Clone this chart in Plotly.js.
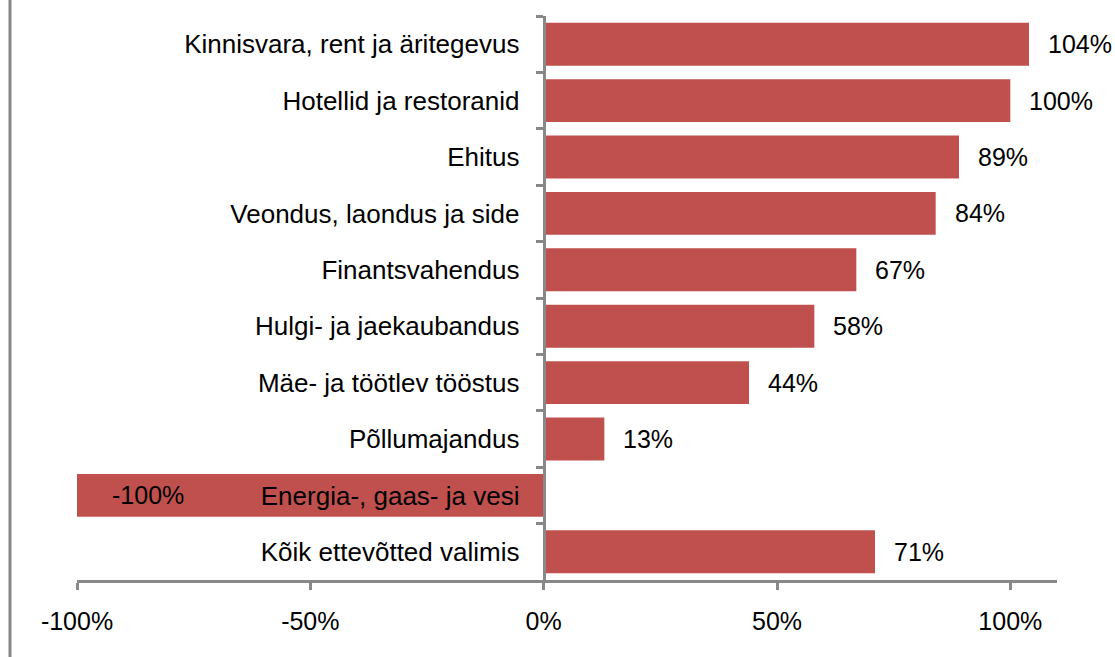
<!DOCTYPE html>
<html>
<head>
<meta charset="utf-8">
<script src="https://cdn.plot.ly/plotly-3.0.1.min.js"></script>
<style>
  html, body { margin: 0; padding: 0; background: #fff; }
  #chart { width: 1115px; height: 657px; }
</style>
</head>
<body>
<div id="chart"></div>
<script>
// Data (top to bottom as shown)
const categories = [
  "Kinnisvara, rent ja äritegevus",
  "Hotellid ja restoranid",
  "Ehitus",
  "Veondus, laondus ja side",
  "Finantsvahendus",
  "Hulgi- ja jaekaubandus",
  "Mäe- ja töötlev tööstus",
  "Põllumajandus",
  "Energia-, gaas- ja vesi",
  "Kõik ettevõtted valimis"
];
const values = [1.04, 1.00, 0.89, 0.84, 0.67, 0.58, 0.44, 0.13, -1.00, 0.71];
const valueLabels = ["104%", "100%", "89%", "84%", "67%", "58%", "44%", "13%", "-100%", "71%"];
const xTickVals = [-1, -0.5, 0, 0.5, 1];
const xTickText = ["-100%", "-50%", "0%", "50%", "100%"];

const FONT = "Liberation Sans, Arial, sans-serif";
const AXIS = "#888888";
const BAR = "#C0504D";

const xRange = [-1, 1.1];
const zeroPos = (0 - xRange[0]) / (xRange[1] - xRange[0]);

const trace = {
  type: "bar",
  orientation: "h",
  y: categories,
  x: values,
  marker: { color: BAR, line: { width: 0 } },
  hoverinfo: "skip",
  showlegend: false
};

const annotations = values.map((v, i) => ({
  x: v < 0 ? xRange[0] : v,
  y: categories[i],
  xref: "x",
  yref: "y",
  text: valueLabels[i],
  showarrow: false,
  xanchor: "left",
  yanchor: "middle",
  xshift: v < 0 ? 33 : 17,
  font: { family: FONT, size: 25, color: "#000" }
}));

const layout = {
  width: 1115,
  height: 657,
  margin: { l: 77, r: 58, t: 16, b: 77, pad: 0 },
  paper_bgcolor: "#ffffff",
  plot_bgcolor: "#ffffff",
  bargap: 0.24,
  font: { family: FONT, size: 25, color: "#000" },
  xaxis: {
    range: xRange,
    tickvals: xTickVals,
    ticktext: xTickText,
    showgrid: false,
    zeroline: false,
    showline: true,
    linecolor: AXIS,
    linewidth: 3,
    ticks: "outside",
    ticklen: 7,
    tickwidth: 3,
    tickcolor: AXIS,
    tickfont: { family: FONT, size: 25, color: "#000" },
    ticklabelstandoff: 10
  },
  yaxis: {
    type: "category",
    autorange: "reversed",
    anchor: "free",
    position: zeroPos,
    showgrid: false,
    zeroline: false,
    showline: true,
    linecolor: AXIS,
    linewidth: 3,
    ticks: "outside",
    tickson: "boundaries",
    ticklen: 7,
    tickwidth: 3,
    tickcolor: AXIS,
    tickfont: { family: FONT, size: 26, color: "#000" },
    ticklabelstandoff: 18
  },
  annotations: annotations,
  shapes: [{
    type: "line",
    xref: "paper", yref: "paper",
    x0: (10 - 77) / 980, x1: (10 - 77) / 980,
    y0: -0.3, y1: 1.2,
    line: { color: AXIS, width: 3 }
  }]
};

Plotly.newPlot("chart", [trace], layout, { displayModeBar: false, staticPlot: true });
</script>
</body>
</html>
